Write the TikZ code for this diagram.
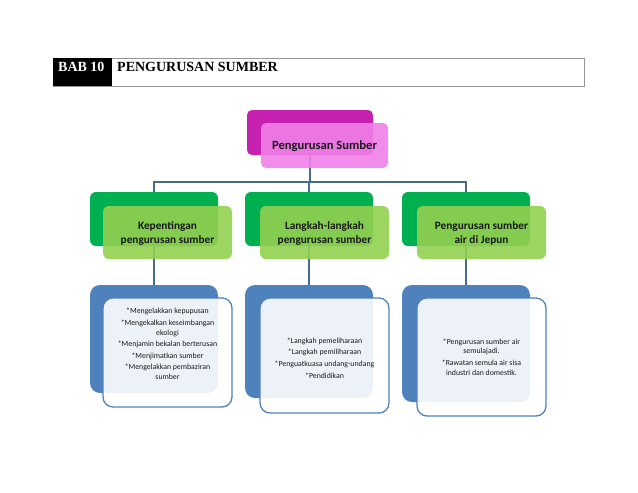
\documentclass[tikz,border=0pt]{standalone}
\usepackage{fontspec}
\setmainfont{Carlito}
\newfontfamily\hdrfont{Liberation Serif}
\usetikzlibrary{backgrounds}
\definecolor{magB}{RGB}{199,33,177}
\definecolor{pinkF}{RGB}{240,128,232}
\definecolor{grnB}{RGB}{0,176,80}
\definecolor{grnF}{RGB}{146,208,80}
\definecolor{bluB}{RGB}{79,129,189}
\definecolor{conn}{RGB}{72,106,145}
\definecolor{hdrgray}{RGB}{150,150,150}
\begin{document}
\begin{tikzpicture}[x=1pt,y=-1pt,
  box/.style={rectangle, inner sep=0pt, outer sep=0pt, anchor=north west},
  back1/.style={box, fill=magB, rounded corners=5pt, minimum width=126pt, minimum height=45pt},
  front1/.style={box, fill=pinkF, fill opacity=0.9, rounded corners=5pt, minimum width=127pt, minimum height=45pt},
  back2/.style={box, fill=grnB, rounded corners=6pt, minimum width=128pt, minimum height=54pt},
  front2/.style={box, fill=grnF, fill opacity=0.9, rounded corners=6pt, minimum width=129pt, minimum height=53pt},
  back3/.style={box, fill=bluB, rounded corners=10pt, minimum width=128pt},
  front3/.style={box, fill=white, fill opacity=0.9, draw=bluB, line width=1.3pt, rounded corners=10pt, minimum width=129pt},
  lbl1/.style={font=\fontsize{12.6}{15}\selectfont\bfseries, text=black!90, align=center},
  lbl2/.style={font=\fontsize{11.3}{14}\selectfont\bfseries, text=black!90, align=center},
  lbl3/.style={font=\fontsize{7.8}{9.6}\selectfont, text=black!90, align=center},
  link/.style={draw=conn, line width=1.3pt}
]
\useasboundingbox (0,0) rectangle (638,493);

% header
\node[box, draw=hdrgray, line width=0.8pt, minimum width=531pt, minimum height=28pt] (hdr) at (53,58) {};
\node[box, fill=black, minimum width=59pt, minimum height=28pt] (hdrcell) at (53,58) {};
\node[anchor=base west, inner sep=0pt, text=white, font=\hdrfont\fontsize{14}{16}\selectfont\bfseries] (bab) at (58,71) {BAB 10};
\node[anchor=base west, inner sep=0pt, text=black, font=\hdrfont\fontsize{14}{16}\selectfont\bfseries] (title) at (117,71) {PENGURUSAN SUMBER};

% top level
\node[back1] (t0b) at (247,110) {};
\node[front1] (t0f) at (261,123) {};
\node[lbl1] (t0t) at (324.5,146) {Pengurusan Sumber};

% level 2
\node[back2] (c1b) at (90,192) {};
\node[front2] (c1f) at (103,206) {};
\node[lbl2] (c1t) at (167.5,233) {Kepentingan\\pengurusan sumber};

\node[back2] (c2b) at (245,192) {};
\node[front2] (c2f) at (260,206) {};
\node[lbl2] (c2t) at (324.5,233) {Langkah-langkah\\pengurusan sumber};

\node[back2] (c3b) at (402,192) {};
\node[front2] (c3f) at (417,206) {};
\node[lbl2] (c3t) at (481.5,233) {Pengurusan sumber\\air di Jepun};

% level 3
\node[back3, minimum height=108pt] (d1b) at (90,285) {};
\node[front3, minimum height=109pt] (d1f) at (103,298) {};
\node[lbl3] (d1t) at (167.5,344) {*Mengelakkan kepupusan\\[2pt]*Mengekalkan keseimbangan\\ekologi\\[2pt]*Menjamin bekalan berterusan\\[2pt]*Menjimatkan sumber\\[2pt]*Mengelakkan pembaziran\\sumber};

\node[back3, minimum height=113pt] (d2b) at (245,285) {};
\node[front3, minimum height=115pt] (d2f) at (260,298) {};
\node[lbl3] (d2t) at (324.5,358) {*Langkah pemeliharaan\\[2pt]*Langkah pemiliharaan\\[2pt]*Penguatkuasa undang-undang\\[2pt]*Pendidikan};

\node[back3, minimum height=117pt] (d3b) at (402,285) {};
\node[front3, minimum height=118pt] (d3f) at (417,298) {};
\node[lbl3] (d3t) at (481.5,357) {*Pengurusan sumber air\\semulajadi.\\[2pt]*Rawatan semula air sisa\\industri dan domestik.};

% connectors
\begin{pgfonlayer}{background}
\coordinate (bus) at (310,182);
\draw[link] (t0b.south) -- (bus);
\draw[link] (bus) -| (c1b.north);
\draw[link] (bus) -| (c2b.north);
\draw[link] (bus) -| (c3b.north);
\draw[link] (c1b.south) -- (d1b.north);
\draw[link] (c2b.south) -- (d2b.north);
\draw[link] (c3b.south) -- (d3b.north);
\end{pgfonlayer}
\end{tikzpicture}
\end{document}
